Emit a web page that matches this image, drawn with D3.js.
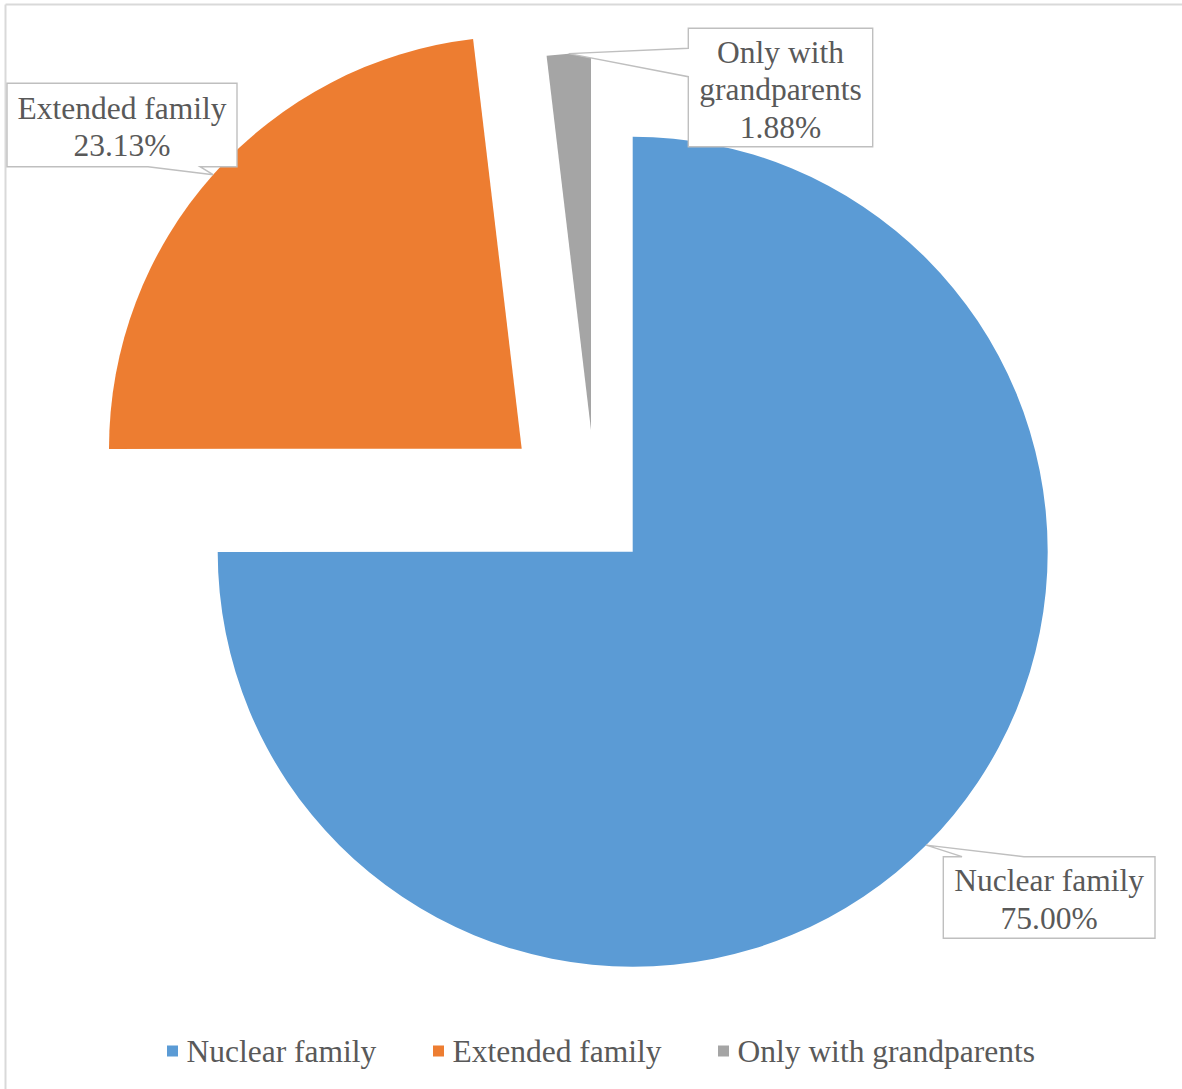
<!DOCTYPE html>
<html>
<head>
<meta charset="utf-8">
<script src="https://cdn.jsdelivr.net/npm/d3@7"></script>
<style>
  html, body { margin: 0; padding: 0; background: #fff; }
  svg { display: block; }
  text { font-family: "Liberation Serif", "Times New Roman", serif; fill: #595959; }
</style>
</head>
<body>
<svg id="chart" width="1182" height="1089"></svg>
<script>
// Household type of respondents (share of total, %)
const categories = ["Nuclear family", "Extended family", "Only with grandparents"];
const shares = [75.00, 23.13, 1.88];
// Multi-line callout names (the percentage line is appended from shares)
const labelNames = [["Nuclear family"], ["Extended family"], ["Only with", "grandparents"]];
const colors = ["#5B9BD5", "#ED7D31", "#A5A5A5"];

const W = 1182, H = 1089;
const svg = d3.select("#chart");
const fmt = d => d3.format(".2f")(d) + "%";

// chart frame (top and left edges visible)
svg.append("line").attr("x1", 5.5).attr("x2", W).attr("y1", 4.5).attr("y2", 4.5)
  .attr("stroke", "#d9d9d9").attr("stroke-width", 2);
svg.append("line").attr("x1", 5.5).attr("x2", 5.5).attr("y1", 4.5).attr("y2", H)
  .attr("stroke", "#d9d9d9").attr("stroke-width", 2);

// pie layout: starts at 12 o'clock, clockwise, in data order
const pie = d3.pie().sort(null).value(d => d)(shares);

const cx = 632.7, cy = 551.7;
// per-slice explosion shift and radius
const sliceLayout = [
  { dx: 0,     dy: 0,      r: 415 },
  { dx: -111,  dy: -103,   r: 412.7 },
  { dx: -41.7, dy: -121.7, r: 377 }
];

const slices = svg.append("g");
pie.forEach((p, i) => {
  const L = sliceLayout[i];
  const arc = d3.arc().innerRadius(0).outerRadius(L.r);
  slices.append("path")
    .attr("transform", `translate(${cx + L.dx},${cy + L.dy})`)
    .attr("d", arc(p))
    .attr("fill", colors[i]);
});

// anchor point on each slice's outer edge at mid-angle
function tipOf(i) {
  const p = pie[i], L = sliceLayout[i];
  const a = (p.startAngle + p.endAngle) / 2;
  return [cx + L.dx + Math.sin(a) * L.r, cy + L.dy - Math.cos(a) * L.r];
}

// callout boxes: rectangle plus a wedge pointing to the slice
const callouts = [
  { x: 943.3, y: 856.7, w: 211.7, h: 81.6, side: "top",    b0: 962, b1: 1024 },
  { x: 7,     y: 83.3,  w: 230,   h: 83.4, side: "bottom", b0: 148, b1: 200 },
  { x: 688.3, y: 28.3,  w: 184.4, h: 118.4, side: "left",  b0: 48.3, b1: 76.7 }
];

const fontSize = 31.5, lineH = 37.5;
const labels = svg.append("g");
callouts.forEach((c, i) => {
  const [tx, ty] = tipOf(i);
  const x0 = c.x, y0 = c.y, x1 = c.x + c.w, y1 = c.y + c.h;
  let d;
  if (c.side === "top") {
    d = `M${x0},${y0}L${c.b0},${y0}L${tx},${ty}L${c.b1},${y0}L${x1},${y0}L${x1},${y1}L${x0},${y1}Z`;
  } else if (c.side === "bottom") {
    d = `M${x0},${y0}L${x1},${y0}L${x1},${y1}L${c.b1},${y1}L${tx},${ty}L${c.b0},${y1}L${x0},${y1}Z`;
  } else {
    d = `M${x0},${y0}L${x1},${y0}L${x1},${y1}L${x0},${y1}L${x0},${c.b1}L${tx},${ty}L${x0},${c.b0}Z`;
  }
  labels.append("path").attr("d", d)
    .attr("fill", "#fff").attr("stroke", "#bfbfbf").attr("stroke-width", 1.4)
    .attr("stroke-linejoin", "miter");

  const lines = labelNames[i].concat([fmt(shares[i])]);
  const midY = y0 + c.h / 2;
  const firstY = midY - (lines.length - 1) * lineH / 2;
  lines.forEach((t, k) => {
    labels.append("text")
      .attr("x", x0 + c.w / 2)
      .attr("y", firstY + k * lineH)
      .attr("dy", "0.4em")
      .attr("text-anchor", "middle")
      .attr("font-size", fontSize)
      .text(t);
  });
});

// legend
const legendX = [167, 433, 718];
const legendY = 1051;
const legend = svg.append("g");
categories.forEach((name, i) => {
  legend.append("rect")
    .attr("x", legendX[i]).attr("y", legendY - 5.5)
    .attr("width", 11).attr("height", 11)
    .attr("fill", colors[i]);
  legend.append("text")
    .attr("x", legendX[i] + 19.5)
    .attr("y", legendY)
    .attr("dy", "0.35em")
    .attr("font-size", fontSize)
    .text(name);
});
</script>
</body>
</html>
